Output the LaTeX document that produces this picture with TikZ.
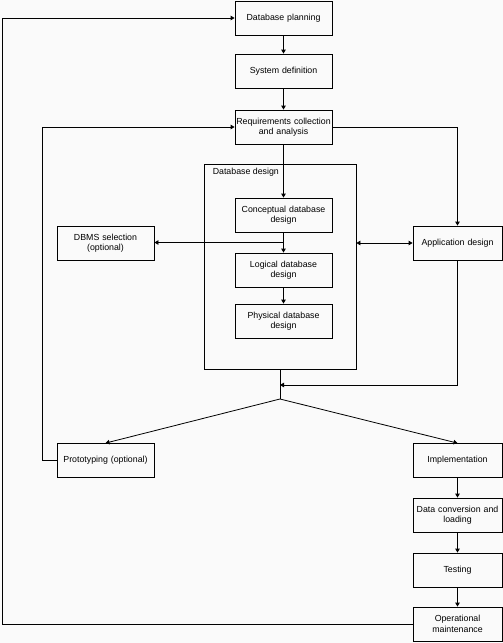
\documentclass[tikz,border=0pt]{standalone}
\usepackage{fontspec}
\setmainfont{Liberation Sans}
\usetikzlibrary{arrows.meta,positioning,calc}

\begin{document}
\begin{tikzpicture}[%
    x=1pt,
    y=-1pt,
    to/.style={-{Triangle[length=4pt,width=4.5pt]}, line width=0.8pt},
    both/.style={{Triangle[length=4pt,width=4.5pt]}-{Triangle[length=4pt,width=4.5pt]}, line width=0.8pt},
    base/.style={draw, line width=0.8pt, align=center, inner sep=1pt, font={\fontsize{8.8}{10.5}\selectfont}},
    stage/.style={base, rectangle, text width=95pt, minimum height=34pt},
    side/.style={base, rectangle, text width=87pt, minimum height=34pt}
    ]

    \useasboundingbox[fill=black!2] (0,0) rectangle (503,643);

    \node at (283.5,18) [stage] (plan) {Database planning};
    \node at (283.5,71) [stage] (sysdef) {System definition};
    \node at (283.5,127) [stage] (req) {Requirements collection\\and analysis};

    \node at (280,266.5) [draw, line width=0.8pt, minimum width=152pt, minimum height=205pt, inner sep=0pt] (dbd) {};
        \node [anchor=north west, inner sep=0pt, font={\fontsize{8.8}{10.5}\selectfont}] at ([xshift=9pt, yshift=-4pt] dbd.north west) (dbdlabel) {Database design};

    \node at (283.5,215) [stage] (concept) {Conceptual database\\design};
    \node at (283.5,270) [stage] (logical) {Logical database\\design};
    \node at (283.5,321) [stage] (physical) {Physical database\\design};

    \node at (105.5,243) [stage] (dbms) {DBMS selection\\(optional)};
    \node at (457.5,243) [side] (app) {Application design};

    \node at (105.5,460.5) [stage] (proto) {Prototyping (optional)};
    \node at (457.5,460.5) [side] (impl) {Implementation};
    \node at (457.5,515) [side] (conv) {Data conversion and\\loading};
    \node at (457.5,570) [side] (test) {Testing};
    \node at (457.5,624) [side] (oper) {Operational\\maintenance};

    \coordinate (outer) at (2,0);
    \coordinate (inner) at (42,0);
    \coordinate (join) at (280,385);
    \coordinate (split) at (280,399);
    \coordinate (tap) at ($(concept.south)!0.5!(logical.north)$);

    \draw[to] (plan) -- (sysdef);
    \draw[to] (sysdef) -- (req);
    \draw[to] (req) -- (concept);
    \draw[to] (concept) -- (logical);
    \draw[to] (logical) -- (physical);

    \draw[to] (tap) -- (tap -| dbms.east);
    \draw[both] (app.west -| dbd.east) -- (app.west);
    \draw[to] (req.east) -| (app.north);

    \draw (dbd.south) -- (split);
    \draw[to] (app.south) |- (join);
    \draw[to] (split) -- (proto.north);
    \draw[to] (split) -- (impl.north);

    \draw[to] (impl) -- (conv);
    \draw[to] (conv) -- (test);
    \draw[to] (test) -- (oper);

    \draw[to] (proto.west) -- (proto.west -| inner) |- (req.west);
    \draw[to] (oper.west) -- (oper.west -| outer) |- (plan.west);

\end{tikzpicture}
\end{document}
